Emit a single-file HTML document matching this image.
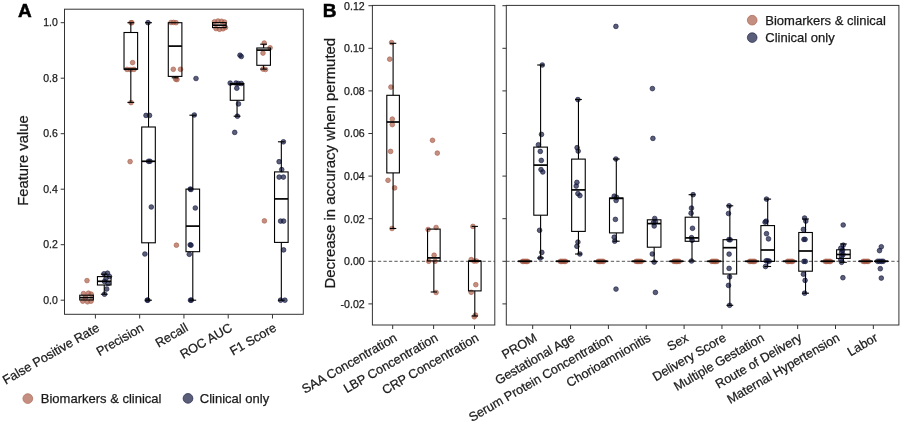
<!DOCTYPE html>
<html><head><meta charset="utf-8"><title>Feature importance figure</title>
<style>html,body{margin:0;padding:0;background:#fff;width:900px;height:422px;overflow:hidden}</style>
</head><body>
<svg width="900" height="422" viewBox="0 0 900 422" style="display:block">
<style>text{stroke:#1a1a1a;stroke-width:0.25px}</style>
<g font-family='"Liberation Sans", Arial, sans-serif'>
<rect width="900" height="422" fill="#fff"/>
<text x="18.00" y="17.30" font-size="19" text-anchor="start" font-weight="bold" fill="#000" style="stroke:#000;stroke-width:0.5px">A</text>
<text x="322.80" y="17.30" font-size="19" text-anchor="start" font-weight="bold" fill="#000" style="stroke:#000;stroke-width:0.5px">B</text>
<circle cx="87.00" cy="280.60" r="2.35" fill="#ab5f4b" fill-opacity="0.7" stroke="#ab5f4b" stroke-opacity="0.7" stroke-width="0.9"/>
<circle cx="83.50" cy="293.60" r="2.35" fill="#ab5f4b" fill-opacity="0.7" stroke="#ab5f4b" stroke-opacity="0.7" stroke-width="0.9"/>
<circle cx="88.50" cy="293.20" r="2.35" fill="#ab5f4b" fill-opacity="0.7" stroke="#ab5f4b" stroke-opacity="0.7" stroke-width="0.9"/>
<circle cx="91.20" cy="294.20" r="2.35" fill="#ab5f4b" fill-opacity="0.7" stroke="#ab5f4b" stroke-opacity="0.7" stroke-width="0.9"/>
<circle cx="82.80" cy="301.20" r="2.35" fill="#ab5f4b" fill-opacity="0.7" stroke="#ab5f4b" stroke-opacity="0.7" stroke-width="0.9"/>
<circle cx="87.50" cy="301.80" r="2.35" fill="#ab5f4b" fill-opacity="0.7" stroke="#ab5f4b" stroke-opacity="0.7" stroke-width="0.9"/>
<circle cx="91.00" cy="301.20" r="2.35" fill="#ab5f4b" fill-opacity="0.7" stroke="#ab5f4b" stroke-opacity="0.7" stroke-width="0.9"/>
<circle cx="85.50" cy="297.50" r="2.35" fill="#ab5f4b" fill-opacity="0.7" stroke="#ab5f4b" stroke-opacity="0.7" stroke-width="0.9"/>
<circle cx="104.00" cy="273.80" r="2.35" fill="#141a40" fill-opacity="0.7" stroke="#141a40" stroke-opacity="0.7" stroke-width="0.9"/>
<circle cx="107.50" cy="273.20" r="2.35" fill="#141a40" fill-opacity="0.7" stroke="#141a40" stroke-opacity="0.7" stroke-width="0.9"/>
<circle cx="109.50" cy="276.50" r="2.35" fill="#141a40" fill-opacity="0.7" stroke="#141a40" stroke-opacity="0.7" stroke-width="0.9"/>
<circle cx="106.00" cy="278.50" r="2.35" fill="#141a40" fill-opacity="0.7" stroke="#141a40" stroke-opacity="0.7" stroke-width="0.9"/>
<circle cx="104.50" cy="281.50" r="2.35" fill="#141a40" fill-opacity="0.7" stroke="#141a40" stroke-opacity="0.7" stroke-width="0.9"/>
<circle cx="108.00" cy="283.50" r="2.35" fill="#141a40" fill-opacity="0.7" stroke="#141a40" stroke-opacity="0.7" stroke-width="0.9"/>
<circle cx="106.70" cy="289.00" r="2.35" fill="#141a40" fill-opacity="0.7" stroke="#141a40" stroke-opacity="0.7" stroke-width="0.9"/>
<circle cx="104.50" cy="294.20" r="2.35" fill="#141a40" fill-opacity="0.7" stroke="#141a40" stroke-opacity="0.7" stroke-width="0.9"/>
<circle cx="131.00" cy="22.70" r="2.35" fill="#ab5f4b" fill-opacity="0.7" stroke="#ab5f4b" stroke-opacity="0.7" stroke-width="0.9"/>
<circle cx="131.80" cy="22.70" r="2.35" fill="#ab5f4b" fill-opacity="0.7" stroke="#ab5f4b" stroke-opacity="0.7" stroke-width="0.9"/>
<circle cx="132.60" cy="62.60" r="2.35" fill="#ab5f4b" fill-opacity="0.7" stroke="#ab5f4b" stroke-opacity="0.7" stroke-width="0.9"/>
<circle cx="127.00" cy="69.40" r="2.35" fill="#ab5f4b" fill-opacity="0.7" stroke="#ab5f4b" stroke-opacity="0.7" stroke-width="0.9"/>
<circle cx="130.50" cy="69.70" r="2.35" fill="#ab5f4b" fill-opacity="0.7" stroke="#ab5f4b" stroke-opacity="0.7" stroke-width="0.9"/>
<circle cx="134.00" cy="69.40" r="2.35" fill="#ab5f4b" fill-opacity="0.7" stroke="#ab5f4b" stroke-opacity="0.7" stroke-width="0.9"/>
<circle cx="131.00" cy="102.60" r="2.35" fill="#ab5f4b" fill-opacity="0.7" stroke="#ab5f4b" stroke-opacity="0.7" stroke-width="0.9"/>
<circle cx="130.10" cy="161.60" r="2.35" fill="#ab5f4b" fill-opacity="0.7" stroke="#ab5f4b" stroke-opacity="0.7" stroke-width="0.9"/>
<circle cx="148.00" cy="22.70" r="2.35" fill="#141a40" fill-opacity="0.7" stroke="#141a40" stroke-opacity="0.7" stroke-width="0.9"/>
<circle cx="146.00" cy="115.40" r="2.35" fill="#141a40" fill-opacity="0.7" stroke="#141a40" stroke-opacity="0.7" stroke-width="0.9"/>
<circle cx="149.50" cy="115.40" r="2.35" fill="#141a40" fill-opacity="0.7" stroke="#141a40" stroke-opacity="0.7" stroke-width="0.9"/>
<circle cx="148.50" cy="161.30" r="2.35" fill="#141a40" fill-opacity="0.7" stroke="#141a40" stroke-opacity="0.7" stroke-width="0.9"/>
<circle cx="150.00" cy="161.30" r="2.35" fill="#141a40" fill-opacity="0.7" stroke="#141a40" stroke-opacity="0.7" stroke-width="0.9"/>
<circle cx="151.30" cy="207.00" r="2.35" fill="#141a40" fill-opacity="0.7" stroke="#141a40" stroke-opacity="0.7" stroke-width="0.9"/>
<circle cx="144.90" cy="254.00" r="2.35" fill="#141a40" fill-opacity="0.7" stroke="#141a40" stroke-opacity="0.7" stroke-width="0.9"/>
<circle cx="147.20" cy="300.20" r="2.35" fill="#141a40" fill-opacity="0.7" stroke="#141a40" stroke-opacity="0.7" stroke-width="0.9"/>
<circle cx="147.90" cy="300.20" r="2.35" fill="#141a40" fill-opacity="0.7" stroke="#141a40" stroke-opacity="0.7" stroke-width="0.9"/>
<circle cx="171.00" cy="22.50" r="2.35" fill="#ab5f4b" fill-opacity="0.7" stroke="#ab5f4b" stroke-opacity="0.7" stroke-width="0.9"/>
<circle cx="173.50" cy="22.40" r="2.35" fill="#ab5f4b" fill-opacity="0.7" stroke="#ab5f4b" stroke-opacity="0.7" stroke-width="0.9"/>
<circle cx="176.00" cy="22.70" r="2.35" fill="#ab5f4b" fill-opacity="0.7" stroke="#ab5f4b" stroke-opacity="0.7" stroke-width="0.9"/>
<circle cx="173.30" cy="69.30" r="2.35" fill="#ab5f4b" fill-opacity="0.7" stroke="#ab5f4b" stroke-opacity="0.7" stroke-width="0.9"/>
<circle cx="180.50" cy="69.30" r="2.35" fill="#ab5f4b" fill-opacity="0.7" stroke="#ab5f4b" stroke-opacity="0.7" stroke-width="0.9"/>
<circle cx="175.70" cy="79.20" r="2.35" fill="#ab5f4b" fill-opacity="0.7" stroke="#ab5f4b" stroke-opacity="0.7" stroke-width="0.9"/>
<circle cx="177.00" cy="79.60" r="2.35" fill="#ab5f4b" fill-opacity="0.7" stroke="#ab5f4b" stroke-opacity="0.7" stroke-width="0.9"/>
<circle cx="176.40" cy="245.20" r="2.35" fill="#ab5f4b" fill-opacity="0.7" stroke="#ab5f4b" stroke-opacity="0.7" stroke-width="0.9"/>
<circle cx="196.00" cy="78.50" r="2.35" fill="#141a40" fill-opacity="0.7" stroke="#141a40" stroke-opacity="0.7" stroke-width="0.9"/>
<circle cx="194.30" cy="115.00" r="2.35" fill="#141a40" fill-opacity="0.7" stroke="#141a40" stroke-opacity="0.7" stroke-width="0.9"/>
<circle cx="190.20" cy="189.10" r="2.35" fill="#141a40" fill-opacity="0.7" stroke="#141a40" stroke-opacity="0.7" stroke-width="0.9"/>
<circle cx="191.00" cy="189.50" r="2.35" fill="#141a40" fill-opacity="0.7" stroke="#141a40" stroke-opacity="0.7" stroke-width="0.9"/>
<circle cx="195.30" cy="208.00" r="2.35" fill="#141a40" fill-opacity="0.7" stroke="#141a40" stroke-opacity="0.7" stroke-width="0.9"/>
<circle cx="190.20" cy="244.80" r="2.35" fill="#141a40" fill-opacity="0.7" stroke="#141a40" stroke-opacity="0.7" stroke-width="0.9"/>
<circle cx="191.00" cy="245.20" r="2.35" fill="#141a40" fill-opacity="0.7" stroke="#141a40" stroke-opacity="0.7" stroke-width="0.9"/>
<circle cx="189.30" cy="254.30" r="2.35" fill="#141a40" fill-opacity="0.7" stroke="#141a40" stroke-opacity="0.7" stroke-width="0.9"/>
<circle cx="190.50" cy="300.20" r="2.35" fill="#141a40" fill-opacity="0.7" stroke="#141a40" stroke-opacity="0.7" stroke-width="0.9"/>
<circle cx="191.30" cy="300.20" r="2.35" fill="#141a40" fill-opacity="0.7" stroke="#141a40" stroke-opacity="0.7" stroke-width="0.9"/>
<circle cx="214.50" cy="21.80" r="2.35" fill="#ab5f4b" fill-opacity="0.7" stroke="#ab5f4b" stroke-opacity="0.7" stroke-width="0.9"/>
<circle cx="218.00" cy="21.00" r="2.35" fill="#ab5f4b" fill-opacity="0.7" stroke="#ab5f4b" stroke-opacity="0.7" stroke-width="0.9"/>
<circle cx="221.50" cy="21.30" r="2.35" fill="#ab5f4b" fill-opacity="0.7" stroke="#ab5f4b" stroke-opacity="0.7" stroke-width="0.9"/>
<circle cx="224.50" cy="22.00" r="2.35" fill="#ab5f4b" fill-opacity="0.7" stroke="#ab5f4b" stroke-opacity="0.7" stroke-width="0.9"/>
<circle cx="216.00" cy="28.60" r="2.35" fill="#ab5f4b" fill-opacity="0.7" stroke="#ab5f4b" stroke-opacity="0.7" stroke-width="0.9"/>
<circle cx="219.50" cy="29.30" r="2.35" fill="#ab5f4b" fill-opacity="0.7" stroke="#ab5f4b" stroke-opacity="0.7" stroke-width="0.9"/>
<circle cx="223.00" cy="28.80" r="2.35" fill="#ab5f4b" fill-opacity="0.7" stroke="#ab5f4b" stroke-opacity="0.7" stroke-width="0.9"/>
<circle cx="225.50" cy="27.50" r="2.35" fill="#ab5f4b" fill-opacity="0.7" stroke="#ab5f4b" stroke-opacity="0.7" stroke-width="0.9"/>
<circle cx="240.00" cy="55.20" r="2.35" fill="#141a40" fill-opacity="0.7" stroke="#141a40" stroke-opacity="0.7" stroke-width="0.9"/>
<circle cx="241.30" cy="56.50" r="2.35" fill="#141a40" fill-opacity="0.7" stroke="#141a40" stroke-opacity="0.7" stroke-width="0.9"/>
<circle cx="230.20" cy="83.10" r="2.35" fill="#141a40" fill-opacity="0.7" stroke="#141a40" stroke-opacity="0.7" stroke-width="0.9"/>
<circle cx="236.00" cy="83.00" r="2.35" fill="#141a40" fill-opacity="0.7" stroke="#141a40" stroke-opacity="0.7" stroke-width="0.9"/>
<circle cx="238.20" cy="83.50" r="2.35" fill="#141a40" fill-opacity="0.7" stroke="#141a40" stroke-opacity="0.7" stroke-width="0.9"/>
<circle cx="241.30" cy="83.50" r="2.35" fill="#141a40" fill-opacity="0.7" stroke="#141a40" stroke-opacity="0.7" stroke-width="0.9"/>
<circle cx="236.80" cy="88.20" r="2.35" fill="#141a40" fill-opacity="0.7" stroke="#141a40" stroke-opacity="0.7" stroke-width="0.9"/>
<circle cx="238.50" cy="103.90" r="2.35" fill="#141a40" fill-opacity="0.7" stroke="#141a40" stroke-opacity="0.7" stroke-width="0.9"/>
<circle cx="237.40" cy="116.20" r="2.35" fill="#141a40" fill-opacity="0.7" stroke="#141a40" stroke-opacity="0.7" stroke-width="0.9"/>
<circle cx="234.70" cy="132.40" r="2.35" fill="#141a40" fill-opacity="0.7" stroke="#141a40" stroke-opacity="0.7" stroke-width="0.9"/>
<circle cx="264.20" cy="43.00" r="2.35" fill="#ab5f4b" fill-opacity="0.7" stroke="#ab5f4b" stroke-opacity="0.7" stroke-width="0.9"/>
<circle cx="270.10" cy="47.80" r="2.35" fill="#ab5f4b" fill-opacity="0.7" stroke="#ab5f4b" stroke-opacity="0.7" stroke-width="0.9"/>
<circle cx="263.00" cy="53.10" r="2.35" fill="#ab5f4b" fill-opacity="0.7" stroke="#ab5f4b" stroke-opacity="0.7" stroke-width="0.9"/>
<circle cx="263.00" cy="69.10" r="2.35" fill="#ab5f4b" fill-opacity="0.7" stroke="#ab5f4b" stroke-opacity="0.7" stroke-width="0.9"/>
<circle cx="265.50" cy="69.50" r="2.35" fill="#ab5f4b" fill-opacity="0.7" stroke="#ab5f4b" stroke-opacity="0.7" stroke-width="0.9"/>
<circle cx="264.40" cy="220.90" r="2.35" fill="#ab5f4b" fill-opacity="0.7" stroke="#ab5f4b" stroke-opacity="0.7" stroke-width="0.9"/>
<circle cx="283.40" cy="141.80" r="2.35" fill="#141a40" fill-opacity="0.7" stroke="#141a40" stroke-opacity="0.7" stroke-width="0.9"/>
<circle cx="279.10" cy="161.70" r="2.35" fill="#141a40" fill-opacity="0.7" stroke="#141a40" stroke-opacity="0.7" stroke-width="0.9"/>
<circle cx="281.70" cy="169.60" r="2.35" fill="#141a40" fill-opacity="0.7" stroke="#141a40" stroke-opacity="0.7" stroke-width="0.9"/>
<circle cx="279.10" cy="177.10" r="2.35" fill="#141a40" fill-opacity="0.7" stroke="#141a40" stroke-opacity="0.7" stroke-width="0.9"/>
<circle cx="283.40" cy="177.10" r="2.35" fill="#141a40" fill-opacity="0.7" stroke="#141a40" stroke-opacity="0.7" stroke-width="0.9"/>
<circle cx="280.60" cy="221.10" r="2.35" fill="#141a40" fill-opacity="0.7" stroke="#141a40" stroke-opacity="0.7" stroke-width="0.9"/>
<circle cx="283.60" cy="221.10" r="2.35" fill="#141a40" fill-opacity="0.7" stroke="#141a40" stroke-opacity="0.7" stroke-width="0.9"/>
<circle cx="283.60" cy="249.90" r="2.35" fill="#141a40" fill-opacity="0.7" stroke="#141a40" stroke-opacity="0.7" stroke-width="0.9"/>
<circle cx="280.60" cy="300.20" r="2.35" fill="#141a40" fill-opacity="0.7" stroke="#141a40" stroke-opacity="0.7" stroke-width="0.9"/>
<circle cx="284.90" cy="300.20" r="2.35" fill="#141a40" fill-opacity="0.7" stroke="#141a40" stroke-opacity="0.7" stroke-width="0.9"/>
<rect x="79.75" y="295.20" width="13.60" height="4.80" fill="none" stroke="#000" stroke-width="1.1"/>
<line x1="79.75" y1="297.60" x2="93.35" y2="297.60" stroke="#000" stroke-width="1.7" />
<line x1="104.25" y1="274.20" x2="104.25" y2="276.60" stroke="#000" stroke-width="1.1" />
<line x1="100.85" y1="274.20" x2="107.65" y2="274.20" stroke="#000" stroke-width="1.1" />
<line x1="104.25" y1="285.00" x2="104.25" y2="294.20" stroke="#000" stroke-width="1.1" />
<line x1="100.85" y1="294.20" x2="107.65" y2="294.20" stroke="#000" stroke-width="1.1" />
<rect x="97.45" y="276.60" width="13.60" height="8.40" fill="none" stroke="#000" stroke-width="1.1"/>
<line x1="97.45" y1="281.30" x2="111.05" y2="281.30" stroke="#000" stroke-width="1.7" />
<line x1="130.82" y1="22.70" x2="130.82" y2="32.50" stroke="#000" stroke-width="1.1" />
<line x1="127.42" y1="22.70" x2="134.22" y2="22.70" stroke="#000" stroke-width="1.1" />
<line x1="130.82" y1="69.20" x2="130.82" y2="102.40" stroke="#000" stroke-width="1.1" />
<line x1="127.42" y1="102.40" x2="134.22" y2="102.40" stroke="#000" stroke-width="1.1" />
<rect x="124.02" y="32.50" width="13.60" height="36.70" fill="none" stroke="#000" stroke-width="1.1"/>
<line x1="124.02" y1="69.20" x2="137.62" y2="69.20" stroke="#000" stroke-width="1.7" />
<line x1="148.52" y1="22.70" x2="148.52" y2="127.00" stroke="#000" stroke-width="1.1" />
<line x1="145.12" y1="22.70" x2="151.92" y2="22.70" stroke="#000" stroke-width="1.1" />
<line x1="148.52" y1="242.80" x2="148.52" y2="300.20" stroke="#000" stroke-width="1.1" />
<line x1="145.12" y1="300.20" x2="151.92" y2="300.20" stroke="#000" stroke-width="1.1" />
<rect x="141.72" y="127.00" width="13.60" height="115.80" fill="none" stroke="#000" stroke-width="1.1"/>
<line x1="141.72" y1="161.30" x2="155.32" y2="161.30" stroke="#000" stroke-width="1.7" />
<line x1="175.09" y1="76.40" x2="175.09" y2="77.80" stroke="#000" stroke-width="1.1" />
<line x1="171.69" y1="77.80" x2="178.49" y2="77.80" stroke="#000" stroke-width="1.1" />
<rect x="168.29" y="22.70" width="13.60" height="53.70" fill="none" stroke="#000" stroke-width="1.1"/>
<line x1="168.29" y1="46.10" x2="181.89" y2="46.10" stroke="#000" stroke-width="1.7" />
<line x1="192.79" y1="115.20" x2="192.79" y2="189.10" stroke="#000" stroke-width="1.1" />
<line x1="189.39" y1="115.20" x2="196.19" y2="115.20" stroke="#000" stroke-width="1.1" />
<line x1="192.79" y1="251.70" x2="192.79" y2="300.20" stroke="#000" stroke-width="1.1" />
<line x1="189.39" y1="300.20" x2="196.19" y2="300.20" stroke="#000" stroke-width="1.1" />
<rect x="185.99" y="189.10" width="13.60" height="62.60" fill="none" stroke="#000" stroke-width="1.1"/>
<line x1="185.99" y1="226.10" x2="199.59" y2="226.10" stroke="#000" stroke-width="1.7" />
<rect x="212.56" y="22.60" width="13.60" height="5.00" fill="none" stroke="#000" stroke-width="1.1"/>
<line x1="212.56" y1="25.20" x2="226.16" y2="25.20" stroke="#000" stroke-width="1.7" />
<line x1="237.06" y1="100.30" x2="237.06" y2="116.20" stroke="#000" stroke-width="1.1" />
<line x1="233.66" y1="116.20" x2="240.46" y2="116.20" stroke="#000" stroke-width="1.1" />
<rect x="230.26" y="83.50" width="13.60" height="16.80" fill="none" stroke="#000" stroke-width="1.1"/>
<line x1="230.26" y1="84.30" x2="243.86" y2="84.30" stroke="#000" stroke-width="1.7" />
<line x1="263.63" y1="44.20" x2="263.63" y2="48.00" stroke="#000" stroke-width="1.1" />
<line x1="260.23" y1="44.20" x2="267.03" y2="44.20" stroke="#000" stroke-width="1.1" />
<line x1="263.63" y1="65.30" x2="263.63" y2="69.10" stroke="#000" stroke-width="1.1" />
<line x1="260.23" y1="69.10" x2="267.03" y2="69.10" stroke="#000" stroke-width="1.1" />
<rect x="256.83" y="48.00" width="13.60" height="17.30" fill="none" stroke="#000" stroke-width="1.1"/>
<line x1="256.83" y1="50.10" x2="270.43" y2="50.10" stroke="#000" stroke-width="1.7" />
<line x1="281.33" y1="141.80" x2="281.33" y2="171.90" stroke="#000" stroke-width="1.1" />
<line x1="277.93" y1="141.80" x2="284.73" y2="141.80" stroke="#000" stroke-width="1.1" />
<line x1="281.33" y1="242.40" x2="281.33" y2="300.20" stroke="#000" stroke-width="1.1" />
<line x1="277.93" y1="300.20" x2="284.73" y2="300.20" stroke="#000" stroke-width="1.1" />
<rect x="274.53" y="171.90" width="13.60" height="70.50" fill="none" stroke="#000" stroke-width="1.1"/>
<line x1="274.53" y1="198.90" x2="288.13" y2="198.90" stroke="#000" stroke-width="1.7" />
<rect x="64.50" y="9.20" width="238.80" height="305.10" fill="none" stroke="#333333" stroke-width="1"/>
<line x1="60.70" y1="300.20" x2="64.50" y2="300.20" stroke="#333333" stroke-width="1" />
<text x="57.90" y="303.50" font-size="10.5" text-anchor="end" font-weight="normal" fill="#1a1a1a" >0.0</text>
<line x1="60.70" y1="244.70" x2="64.50" y2="244.70" stroke="#333333" stroke-width="1" />
<text x="57.90" y="248.00" font-size="10.5" text-anchor="end" font-weight="normal" fill="#1a1a1a" >0.2</text>
<line x1="60.70" y1="189.20" x2="64.50" y2="189.20" stroke="#333333" stroke-width="1" />
<text x="57.90" y="192.50" font-size="10.5" text-anchor="end" font-weight="normal" fill="#1a1a1a" >0.4</text>
<line x1="60.70" y1="133.70" x2="64.50" y2="133.70" stroke="#333333" stroke-width="1" />
<text x="57.90" y="137.00" font-size="10.5" text-anchor="end" font-weight="normal" fill="#1a1a1a" >0.6</text>
<line x1="60.70" y1="78.20" x2="64.50" y2="78.20" stroke="#333333" stroke-width="1" />
<text x="57.90" y="81.50" font-size="10.5" text-anchor="end" font-weight="normal" fill="#1a1a1a" >0.8</text>
<line x1="60.70" y1="22.70" x2="64.50" y2="22.70" stroke="#333333" stroke-width="1" />
<text x="57.90" y="26.00" font-size="10.5" text-anchor="end" font-weight="normal" fill="#1a1a1a" >1.0</text>
<line x1="95.40" y1="314.30" x2="95.40" y2="318.50" stroke="#333333" stroke-width="1" />
<text transform="translate(100.40,330.1) rotate(-30)" font-size="12.7" text-anchor="end" fill="#1a1a1a">False Positive Rate</text>
<line x1="139.67" y1="314.30" x2="139.67" y2="318.50" stroke="#333333" stroke-width="1" />
<text transform="translate(144.67,330.1) rotate(-30)" font-size="12.7" text-anchor="end" fill="#1a1a1a">Precision</text>
<line x1="183.94" y1="314.30" x2="183.94" y2="318.50" stroke="#333333" stroke-width="1" />
<text transform="translate(188.94,330.1) rotate(-30)" font-size="12.7" text-anchor="end" fill="#1a1a1a">Recall</text>
<line x1="228.21" y1="314.30" x2="228.21" y2="318.50" stroke="#333333" stroke-width="1" />
<text transform="translate(233.21,330.1) rotate(-30)" font-size="12.7" text-anchor="end" fill="#1a1a1a">ROC AUC</text>
<line x1="272.48" y1="314.30" x2="272.48" y2="318.50" stroke="#333333" stroke-width="1" />
<text transform="translate(277.48,330.1) rotate(-30)" font-size="12.7" text-anchor="end" fill="#1a1a1a">F1 Score</text>
<text transform="translate(27.6,160.5) rotate(-90)" font-size="14.8" text-anchor="middle" fill="#1a1a1a">Feature value</text>
<line x1="372.40" y1="261.30" x2="494.80" y2="261.30" stroke="#555555" stroke-width="1.0" stroke-dasharray="3.3 2.2"/>
<line x1="506.30" y1="261.30" x2="898.90" y2="261.30" stroke="#555555" stroke-width="1.0" stroke-dasharray="3.3 2.2"/>
<circle cx="391.60" cy="42.60" r="2.35" fill="#ab5f4b" fill-opacity="0.7" stroke="#ab5f4b" stroke-opacity="0.7" stroke-width="0.9"/>
<circle cx="389.70" cy="59.20" r="2.35" fill="#ab5f4b" fill-opacity="0.7" stroke="#ab5f4b" stroke-opacity="0.7" stroke-width="0.9"/>
<circle cx="390.90" cy="87.10" r="2.35" fill="#ab5f4b" fill-opacity="0.7" stroke="#ab5f4b" stroke-opacity="0.7" stroke-width="0.9"/>
<circle cx="392.30" cy="119.10" r="2.35" fill="#ab5f4b" fill-opacity="0.7" stroke="#ab5f4b" stroke-opacity="0.7" stroke-width="0.9"/>
<circle cx="392.30" cy="124.60" r="2.35" fill="#ab5f4b" fill-opacity="0.7" stroke="#ab5f4b" stroke-opacity="0.7" stroke-width="0.9"/>
<circle cx="390.60" cy="151.40" r="2.35" fill="#ab5f4b" fill-opacity="0.7" stroke="#ab5f4b" stroke-opacity="0.7" stroke-width="0.9"/>
<circle cx="388.00" cy="180.30" r="2.35" fill="#ab5f4b" fill-opacity="0.7" stroke="#ab5f4b" stroke-opacity="0.7" stroke-width="0.9"/>
<circle cx="394.60" cy="187.90" r="2.35" fill="#ab5f4b" fill-opacity="0.7" stroke="#ab5f4b" stroke-opacity="0.7" stroke-width="0.9"/>
<circle cx="392.00" cy="228.50" r="2.35" fill="#ab5f4b" fill-opacity="0.7" stroke="#ab5f4b" stroke-opacity="0.7" stroke-width="0.9"/>
<circle cx="432.50" cy="140.30" r="2.35" fill="#ab5f4b" fill-opacity="0.7" stroke="#ab5f4b" stroke-opacity="0.7" stroke-width="0.9"/>
<circle cx="437.30" cy="153.10" r="2.35" fill="#ab5f4b" fill-opacity="0.7" stroke="#ab5f4b" stroke-opacity="0.7" stroke-width="0.9"/>
<circle cx="428.10" cy="229.50" r="2.35" fill="#ab5f4b" fill-opacity="0.7" stroke="#ab5f4b" stroke-opacity="0.7" stroke-width="0.9"/>
<circle cx="436.10" cy="227.50" r="2.35" fill="#ab5f4b" fill-opacity="0.7" stroke="#ab5f4b" stroke-opacity="0.7" stroke-width="0.9"/>
<circle cx="434.10" cy="255.20" r="2.35" fill="#ab5f4b" fill-opacity="0.7" stroke="#ab5f4b" stroke-opacity="0.7" stroke-width="0.9"/>
<circle cx="428.70" cy="261.30" r="2.35" fill="#ab5f4b" fill-opacity="0.7" stroke="#ab5f4b" stroke-opacity="0.7" stroke-width="0.9"/>
<circle cx="435.10" cy="261.30" r="2.35" fill="#ab5f4b" fill-opacity="0.7" stroke="#ab5f4b" stroke-opacity="0.7" stroke-width="0.9"/>
<circle cx="436.10" cy="292.50" r="2.35" fill="#ab5f4b" fill-opacity="0.7" stroke="#ab5f4b" stroke-opacity="0.7" stroke-width="0.9"/>
<circle cx="472.90" cy="226.40" r="2.35" fill="#ab5f4b" fill-opacity="0.7" stroke="#ab5f4b" stroke-opacity="0.7" stroke-width="0.9"/>
<circle cx="471.20" cy="259.60" r="2.35" fill="#ab5f4b" fill-opacity="0.7" stroke="#ab5f4b" stroke-opacity="0.7" stroke-width="0.9"/>
<circle cx="474.00" cy="261.10" r="2.35" fill="#ab5f4b" fill-opacity="0.7" stroke="#ab5f4b" stroke-opacity="0.7" stroke-width="0.9"/>
<circle cx="476.50" cy="261.00" r="2.35" fill="#ab5f4b" fill-opacity="0.7" stroke="#ab5f4b" stroke-opacity="0.7" stroke-width="0.9"/>
<circle cx="475.80" cy="284.70" r="2.35" fill="#ab5f4b" fill-opacity="0.7" stroke="#ab5f4b" stroke-opacity="0.7" stroke-width="0.9"/>
<circle cx="471.20" cy="292.30" r="2.35" fill="#ab5f4b" fill-opacity="0.7" stroke="#ab5f4b" stroke-opacity="0.7" stroke-width="0.9"/>
<circle cx="475.50" cy="315.10" r="2.35" fill="#ab5f4b" fill-opacity="0.7" stroke="#ab5f4b" stroke-opacity="0.7" stroke-width="0.9"/>
<circle cx="474.30" cy="316.80" r="2.35" fill="#ab5f4b" fill-opacity="0.7" stroke="#ab5f4b" stroke-opacity="0.7" stroke-width="0.9"/>
<line x1="393.10" y1="43.30" x2="393.10" y2="95.30" stroke="#000" stroke-width="1.1" />
<line x1="389.95" y1="43.30" x2="396.25" y2="43.30" stroke="#000" stroke-width="1.1" />
<line x1="393.10" y1="172.90" x2="393.10" y2="228.50" stroke="#000" stroke-width="1.1" />
<line x1="389.95" y1="228.50" x2="396.25" y2="228.50" stroke="#000" stroke-width="1.1" />
<rect x="386.80" y="95.30" width="12.60" height="77.60" fill="none" stroke="#000" stroke-width="1.1"/>
<line x1="386.80" y1="122.00" x2="399.40" y2="122.00" stroke="#000" stroke-width="1.7" />
<line x1="433.85" y1="260.90" x2="433.85" y2="292.00" stroke="#000" stroke-width="1.1" />
<line x1="430.70" y1="292.00" x2="437.00" y2="292.00" stroke="#000" stroke-width="1.1" />
<rect x="427.55" y="229.10" width="12.60" height="31.80" fill="none" stroke="#000" stroke-width="1.1"/>
<line x1="427.55" y1="257.90" x2="440.15" y2="257.90" stroke="#000" stroke-width="1.7" />
<line x1="474.80" y1="226.40" x2="474.80" y2="261.10" stroke="#000" stroke-width="1.1" />
<line x1="471.65" y1="226.40" x2="477.95" y2="226.40" stroke="#000" stroke-width="1.1" />
<line x1="474.80" y1="290.90" x2="474.80" y2="316.00" stroke="#000" stroke-width="1.1" />
<line x1="471.65" y1="316.00" x2="477.95" y2="316.00" stroke="#000" stroke-width="1.1" />
<rect x="468.50" y="261.10" width="12.60" height="29.80" fill="none" stroke="#000" stroke-width="1.1"/>
<line x1="468.50" y1="261.10" x2="481.10" y2="261.10" stroke="#000" stroke-width="1.7" />
<circle cx="522.50" cy="261.40" r="2.35" fill="#ab5f4b" fill-opacity="0.7" stroke="#ab5f4b" stroke-opacity="0.7" stroke-width="0.9"/>
<circle cx="523.80" cy="261.40" r="2.35" fill="#ab5f4b" fill-opacity="0.7" stroke="#ab5f4b" stroke-opacity="0.7" stroke-width="0.9"/>
<circle cx="525.10" cy="261.40" r="2.35" fill="#ab5f4b" fill-opacity="0.7" stroke="#ab5f4b" stroke-opacity="0.7" stroke-width="0.9"/>
<circle cx="526.40" cy="261.40" r="2.35" fill="#ab5f4b" fill-opacity="0.7" stroke="#ab5f4b" stroke-opacity="0.7" stroke-width="0.9"/>
<circle cx="527.70" cy="261.40" r="2.35" fill="#ab5f4b" fill-opacity="0.7" stroke="#ab5f4b" stroke-opacity="0.7" stroke-width="0.9"/>
<circle cx="542.30" cy="65.00" r="2.35" fill="#141a40" fill-opacity="0.7" stroke="#141a40" stroke-opacity="0.7" stroke-width="0.9"/>
<circle cx="541.50" cy="134.40" r="2.35" fill="#141a40" fill-opacity="0.7" stroke="#141a40" stroke-opacity="0.7" stroke-width="0.9"/>
<circle cx="538.40" cy="144.80" r="2.35" fill="#141a40" fill-opacity="0.7" stroke="#141a40" stroke-opacity="0.7" stroke-width="0.9"/>
<circle cx="540.30" cy="151.40" r="2.35" fill="#141a40" fill-opacity="0.7" stroke="#141a40" stroke-opacity="0.7" stroke-width="0.9"/>
<circle cx="541.30" cy="160.40" r="2.35" fill="#141a40" fill-opacity="0.7" stroke="#141a40" stroke-opacity="0.7" stroke-width="0.9"/>
<circle cx="541.00" cy="169.60" r="2.35" fill="#141a40" fill-opacity="0.7" stroke="#141a40" stroke-opacity="0.7" stroke-width="0.9"/>
<circle cx="542.80" cy="172.00" r="2.35" fill="#141a40" fill-opacity="0.7" stroke="#141a40" stroke-opacity="0.7" stroke-width="0.9"/>
<circle cx="539.60" cy="230.30" r="2.35" fill="#141a40" fill-opacity="0.7" stroke="#141a40" stroke-opacity="0.7" stroke-width="0.9"/>
<circle cx="541.80" cy="252.40" r="2.35" fill="#141a40" fill-opacity="0.7" stroke="#141a40" stroke-opacity="0.7" stroke-width="0.9"/>
<circle cx="540.30" cy="258.00" r="2.35" fill="#141a40" fill-opacity="0.7" stroke="#141a40" stroke-opacity="0.7" stroke-width="0.9"/>
<circle cx="560.35" cy="261.40" r="2.35" fill="#ab5f4b" fill-opacity="0.7" stroke="#ab5f4b" stroke-opacity="0.7" stroke-width="0.9"/>
<circle cx="561.65" cy="261.40" r="2.35" fill="#ab5f4b" fill-opacity="0.7" stroke="#ab5f4b" stroke-opacity="0.7" stroke-width="0.9"/>
<circle cx="562.95" cy="261.40" r="2.35" fill="#ab5f4b" fill-opacity="0.7" stroke="#ab5f4b" stroke-opacity="0.7" stroke-width="0.9"/>
<circle cx="564.25" cy="261.40" r="2.35" fill="#ab5f4b" fill-opacity="0.7" stroke="#ab5f4b" stroke-opacity="0.7" stroke-width="0.9"/>
<circle cx="565.55" cy="261.40" r="2.35" fill="#ab5f4b" fill-opacity="0.7" stroke="#ab5f4b" stroke-opacity="0.7" stroke-width="0.9"/>
<circle cx="577.90" cy="99.60" r="2.35" fill="#141a40" fill-opacity="0.7" stroke="#141a40" stroke-opacity="0.7" stroke-width="0.9"/>
<circle cx="577.10" cy="147.70" r="2.35" fill="#141a40" fill-opacity="0.7" stroke="#141a40" stroke-opacity="0.7" stroke-width="0.9"/>
<circle cx="578.20" cy="151.10" r="2.35" fill="#141a40" fill-opacity="0.7" stroke="#141a40" stroke-opacity="0.7" stroke-width="0.9"/>
<circle cx="576.90" cy="182.40" r="2.35" fill="#141a40" fill-opacity="0.7" stroke="#141a40" stroke-opacity="0.7" stroke-width="0.9"/>
<circle cx="576.20" cy="186.10" r="2.35" fill="#141a40" fill-opacity="0.7" stroke="#141a40" stroke-opacity="0.7" stroke-width="0.9"/>
<circle cx="577.90" cy="193.60" r="2.35" fill="#141a40" fill-opacity="0.7" stroke="#141a40" stroke-opacity="0.7" stroke-width="0.9"/>
<circle cx="579.90" cy="195.60" r="2.35" fill="#141a40" fill-opacity="0.7" stroke="#141a40" stroke-opacity="0.7" stroke-width="0.9"/>
<circle cx="577.90" cy="242.10" r="2.35" fill="#141a40" fill-opacity="0.7" stroke="#141a40" stroke-opacity="0.7" stroke-width="0.9"/>
<circle cx="576.90" cy="246.30" r="2.35" fill="#141a40" fill-opacity="0.7" stroke="#141a40" stroke-opacity="0.7" stroke-width="0.9"/>
<circle cx="579.90" cy="254.00" r="2.35" fill="#141a40" fill-opacity="0.7" stroke="#141a40" stroke-opacity="0.7" stroke-width="0.9"/>
<circle cx="598.20" cy="261.40" r="2.35" fill="#ab5f4b" fill-opacity="0.7" stroke="#ab5f4b" stroke-opacity="0.7" stroke-width="0.9"/>
<circle cx="599.50" cy="261.40" r="2.35" fill="#ab5f4b" fill-opacity="0.7" stroke="#ab5f4b" stroke-opacity="0.7" stroke-width="0.9"/>
<circle cx="600.80" cy="261.40" r="2.35" fill="#ab5f4b" fill-opacity="0.7" stroke="#ab5f4b" stroke-opacity="0.7" stroke-width="0.9"/>
<circle cx="602.10" cy="261.40" r="2.35" fill="#ab5f4b" fill-opacity="0.7" stroke="#ab5f4b" stroke-opacity="0.7" stroke-width="0.9"/>
<circle cx="603.40" cy="261.40" r="2.35" fill="#ab5f4b" fill-opacity="0.7" stroke="#ab5f4b" stroke-opacity="0.7" stroke-width="0.9"/>
<circle cx="615.90" cy="26.40" r="2.35" fill="#141a40" fill-opacity="0.7" stroke="#141a40" stroke-opacity="0.7" stroke-width="0.9"/>
<circle cx="615.90" cy="159.00" r="2.35" fill="#141a40" fill-opacity="0.7" stroke="#141a40" stroke-opacity="0.7" stroke-width="0.9"/>
<circle cx="614.20" cy="196.20" r="2.35" fill="#141a40" fill-opacity="0.7" stroke="#141a40" stroke-opacity="0.7" stroke-width="0.9"/>
<circle cx="616.60" cy="197.40" r="2.35" fill="#141a40" fill-opacity="0.7" stroke="#141a40" stroke-opacity="0.7" stroke-width="0.9"/>
<circle cx="616.10" cy="200.50" r="2.35" fill="#141a40" fill-opacity="0.7" stroke="#141a40" stroke-opacity="0.7" stroke-width="0.9"/>
<circle cx="615.40" cy="219.40" r="2.35" fill="#141a40" fill-opacity="0.7" stroke="#141a40" stroke-opacity="0.7" stroke-width="0.9"/>
<circle cx="614.20" cy="237.20" r="2.35" fill="#141a40" fill-opacity="0.7" stroke="#141a40" stroke-opacity="0.7" stroke-width="0.9"/>
<circle cx="614.70" cy="241.20" r="2.35" fill="#141a40" fill-opacity="0.7" stroke="#141a40" stroke-opacity="0.7" stroke-width="0.9"/>
<circle cx="616.00" cy="289.10" r="2.35" fill="#141a40" fill-opacity="0.7" stroke="#141a40" stroke-opacity="0.7" stroke-width="0.9"/>
<circle cx="636.05" cy="261.40" r="2.35" fill="#ab5f4b" fill-opacity="0.7" stroke="#ab5f4b" stroke-opacity="0.7" stroke-width="0.9"/>
<circle cx="637.35" cy="261.40" r="2.35" fill="#ab5f4b" fill-opacity="0.7" stroke="#ab5f4b" stroke-opacity="0.7" stroke-width="0.9"/>
<circle cx="638.65" cy="261.40" r="2.35" fill="#ab5f4b" fill-opacity="0.7" stroke="#ab5f4b" stroke-opacity="0.7" stroke-width="0.9"/>
<circle cx="639.95" cy="261.40" r="2.35" fill="#ab5f4b" fill-opacity="0.7" stroke="#ab5f4b" stroke-opacity="0.7" stroke-width="0.9"/>
<circle cx="641.25" cy="261.40" r="2.35" fill="#ab5f4b" fill-opacity="0.7" stroke="#ab5f4b" stroke-opacity="0.7" stroke-width="0.9"/>
<circle cx="652.40" cy="88.60" r="2.35" fill="#141a40" fill-opacity="0.7" stroke="#141a40" stroke-opacity="0.7" stroke-width="0.9"/>
<circle cx="652.90" cy="138.40" r="2.35" fill="#141a40" fill-opacity="0.7" stroke="#141a40" stroke-opacity="0.7" stroke-width="0.9"/>
<circle cx="654.70" cy="218.50" r="2.35" fill="#141a40" fill-opacity="0.7" stroke="#141a40" stroke-opacity="0.7" stroke-width="0.9"/>
<circle cx="653.50" cy="222.50" r="2.35" fill="#141a40" fill-opacity="0.7" stroke="#141a40" stroke-opacity="0.7" stroke-width="0.9"/>
<circle cx="655.40" cy="221.80" r="2.35" fill="#141a40" fill-opacity="0.7" stroke="#141a40" stroke-opacity="0.7" stroke-width="0.9"/>
<circle cx="654.20" cy="226.00" r="2.35" fill="#141a40" fill-opacity="0.7" stroke="#141a40" stroke-opacity="0.7" stroke-width="0.9"/>
<circle cx="652.30" cy="254.00" r="2.35" fill="#141a40" fill-opacity="0.7" stroke="#141a40" stroke-opacity="0.7" stroke-width="0.9"/>
<circle cx="654.20" cy="262.10" r="2.35" fill="#141a40" fill-opacity="0.7" stroke="#141a40" stroke-opacity="0.7" stroke-width="0.9"/>
<circle cx="655.40" cy="292.40" r="2.35" fill="#141a40" fill-opacity="0.7" stroke="#141a40" stroke-opacity="0.7" stroke-width="0.9"/>
<circle cx="673.90" cy="261.40" r="2.35" fill="#ab5f4b" fill-opacity="0.7" stroke="#ab5f4b" stroke-opacity="0.7" stroke-width="0.9"/>
<circle cx="675.20" cy="261.40" r="2.35" fill="#ab5f4b" fill-opacity="0.7" stroke="#ab5f4b" stroke-opacity="0.7" stroke-width="0.9"/>
<circle cx="676.50" cy="261.40" r="2.35" fill="#ab5f4b" fill-opacity="0.7" stroke="#ab5f4b" stroke-opacity="0.7" stroke-width="0.9"/>
<circle cx="677.80" cy="261.40" r="2.35" fill="#ab5f4b" fill-opacity="0.7" stroke="#ab5f4b" stroke-opacity="0.7" stroke-width="0.9"/>
<circle cx="679.10" cy="261.40" r="2.35" fill="#ab5f4b" fill-opacity="0.7" stroke="#ab5f4b" stroke-opacity="0.7" stroke-width="0.9"/>
<circle cx="693.10" cy="194.70" r="2.35" fill="#141a40" fill-opacity="0.7" stroke="#141a40" stroke-opacity="0.7" stroke-width="0.9"/>
<circle cx="691.50" cy="208.10" r="2.35" fill="#141a40" fill-opacity="0.7" stroke="#141a40" stroke-opacity="0.7" stroke-width="0.9"/>
<circle cx="691.10" cy="213.20" r="2.35" fill="#141a40" fill-opacity="0.7" stroke="#141a40" stroke-opacity="0.7" stroke-width="0.9"/>
<circle cx="692.50" cy="228.30" r="2.35" fill="#141a40" fill-opacity="0.7" stroke="#141a40" stroke-opacity="0.7" stroke-width="0.9"/>
<circle cx="691.50" cy="237.70" r="2.35" fill="#141a40" fill-opacity="0.7" stroke="#141a40" stroke-opacity="0.7" stroke-width="0.9"/>
<circle cx="692.10" cy="240.30" r="2.35" fill="#141a40" fill-opacity="0.7" stroke="#141a40" stroke-opacity="0.7" stroke-width="0.9"/>
<circle cx="691.50" cy="261.00" r="2.35" fill="#141a40" fill-opacity="0.7" stroke="#141a40" stroke-opacity="0.7" stroke-width="0.9"/>
<circle cx="711.75" cy="261.40" r="2.35" fill="#ab5f4b" fill-opacity="0.7" stroke="#ab5f4b" stroke-opacity="0.7" stroke-width="0.9"/>
<circle cx="713.05" cy="261.40" r="2.35" fill="#ab5f4b" fill-opacity="0.7" stroke="#ab5f4b" stroke-opacity="0.7" stroke-width="0.9"/>
<circle cx="714.35" cy="261.40" r="2.35" fill="#ab5f4b" fill-opacity="0.7" stroke="#ab5f4b" stroke-opacity="0.7" stroke-width="0.9"/>
<circle cx="715.65" cy="261.40" r="2.35" fill="#ab5f4b" fill-opacity="0.7" stroke="#ab5f4b" stroke-opacity="0.7" stroke-width="0.9"/>
<circle cx="716.95" cy="261.40" r="2.35" fill="#ab5f4b" fill-opacity="0.7" stroke="#ab5f4b" stroke-opacity="0.7" stroke-width="0.9"/>
<circle cx="729.10" cy="205.80" r="2.35" fill="#141a40" fill-opacity="0.7" stroke="#141a40" stroke-opacity="0.7" stroke-width="0.9"/>
<circle cx="728.50" cy="213.50" r="2.35" fill="#141a40" fill-opacity="0.7" stroke="#141a40" stroke-opacity="0.7" stroke-width="0.9"/>
<circle cx="728.90" cy="239.60" r="2.35" fill="#141a40" fill-opacity="0.7" stroke="#141a40" stroke-opacity="0.7" stroke-width="0.9"/>
<circle cx="730.20" cy="239.80" r="2.35" fill="#141a40" fill-opacity="0.7" stroke="#141a40" stroke-opacity="0.7" stroke-width="0.9"/>
<circle cx="729.10" cy="254.10" r="2.35" fill="#141a40" fill-opacity="0.7" stroke="#141a40" stroke-opacity="0.7" stroke-width="0.9"/>
<circle cx="729.10" cy="268.40" r="2.35" fill="#141a40" fill-opacity="0.7" stroke="#141a40" stroke-opacity="0.7" stroke-width="0.9"/>
<circle cx="729.60" cy="276.90" r="2.35" fill="#141a40" fill-opacity="0.7" stroke="#141a40" stroke-opacity="0.7" stroke-width="0.9"/>
<circle cx="728.50" cy="285.40" r="2.35" fill="#141a40" fill-opacity="0.7" stroke="#141a40" stroke-opacity="0.7" stroke-width="0.9"/>
<circle cx="729.60" cy="305.30" r="2.35" fill="#141a40" fill-opacity="0.7" stroke="#141a40" stroke-opacity="0.7" stroke-width="0.9"/>
<circle cx="749.60" cy="261.40" r="2.35" fill="#ab5f4b" fill-opacity="0.7" stroke="#ab5f4b" stroke-opacity="0.7" stroke-width="0.9"/>
<circle cx="750.90" cy="261.40" r="2.35" fill="#ab5f4b" fill-opacity="0.7" stroke="#ab5f4b" stroke-opacity="0.7" stroke-width="0.9"/>
<circle cx="752.20" cy="261.40" r="2.35" fill="#ab5f4b" fill-opacity="0.7" stroke="#ab5f4b" stroke-opacity="0.7" stroke-width="0.9"/>
<circle cx="753.50" cy="261.40" r="2.35" fill="#ab5f4b" fill-opacity="0.7" stroke="#ab5f4b" stroke-opacity="0.7" stroke-width="0.9"/>
<circle cx="754.80" cy="261.40" r="2.35" fill="#ab5f4b" fill-opacity="0.7" stroke="#ab5f4b" stroke-opacity="0.7" stroke-width="0.9"/>
<circle cx="766.50" cy="199.10" r="2.35" fill="#141a40" fill-opacity="0.7" stroke="#141a40" stroke-opacity="0.7" stroke-width="0.9"/>
<circle cx="766.10" cy="221.20" r="2.35" fill="#141a40" fill-opacity="0.7" stroke="#141a40" stroke-opacity="0.7" stroke-width="0.9"/>
<circle cx="765.10" cy="222.20" r="2.35" fill="#141a40" fill-opacity="0.7" stroke="#141a40" stroke-opacity="0.7" stroke-width="0.9"/>
<circle cx="766.50" cy="233.70" r="2.35" fill="#141a40" fill-opacity="0.7" stroke="#141a40" stroke-opacity="0.7" stroke-width="0.9"/>
<circle cx="768.50" cy="238.90" r="2.35" fill="#141a40" fill-opacity="0.7" stroke="#141a40" stroke-opacity="0.7" stroke-width="0.9"/>
<circle cx="766.10" cy="260.80" r="2.35" fill="#141a40" fill-opacity="0.7" stroke="#141a40" stroke-opacity="0.7" stroke-width="0.9"/>
<circle cx="767.70" cy="260.80" r="2.35" fill="#141a40" fill-opacity="0.7" stroke="#141a40" stroke-opacity="0.7" stroke-width="0.9"/>
<circle cx="769.20" cy="261.20" r="2.35" fill="#141a40" fill-opacity="0.7" stroke="#141a40" stroke-opacity="0.7" stroke-width="0.9"/>
<circle cx="765.50" cy="266.50" r="2.35" fill="#141a40" fill-opacity="0.7" stroke="#141a40" stroke-opacity="0.7" stroke-width="0.9"/>
<circle cx="787.45" cy="261.40" r="2.35" fill="#ab5f4b" fill-opacity="0.7" stroke="#ab5f4b" stroke-opacity="0.7" stroke-width="0.9"/>
<circle cx="788.75" cy="261.40" r="2.35" fill="#ab5f4b" fill-opacity="0.7" stroke="#ab5f4b" stroke-opacity="0.7" stroke-width="0.9"/>
<circle cx="790.05" cy="261.40" r="2.35" fill="#ab5f4b" fill-opacity="0.7" stroke="#ab5f4b" stroke-opacity="0.7" stroke-width="0.9"/>
<circle cx="791.35" cy="261.40" r="2.35" fill="#ab5f4b" fill-opacity="0.7" stroke="#ab5f4b" stroke-opacity="0.7" stroke-width="0.9"/>
<circle cx="792.65" cy="261.40" r="2.35" fill="#ab5f4b" fill-opacity="0.7" stroke="#ab5f4b" stroke-opacity="0.7" stroke-width="0.9"/>
<circle cx="804.60" cy="218.00" r="2.35" fill="#141a40" fill-opacity="0.7" stroke="#141a40" stroke-opacity="0.7" stroke-width="0.9"/>
<circle cx="805.80" cy="221.10" r="2.35" fill="#141a40" fill-opacity="0.7" stroke="#141a40" stroke-opacity="0.7" stroke-width="0.9"/>
<circle cx="803.40" cy="229.40" r="2.35" fill="#141a40" fill-opacity="0.7" stroke="#141a40" stroke-opacity="0.7" stroke-width="0.9"/>
<circle cx="803.90" cy="239.40" r="2.35" fill="#141a40" fill-opacity="0.7" stroke="#141a40" stroke-opacity="0.7" stroke-width="0.9"/>
<circle cx="805.10" cy="239.40" r="2.35" fill="#141a40" fill-opacity="0.7" stroke="#141a40" stroke-opacity="0.7" stroke-width="0.9"/>
<circle cx="803.90" cy="261.40" r="2.35" fill="#141a40" fill-opacity="0.7" stroke="#141a40" stroke-opacity="0.7" stroke-width="0.9"/>
<circle cx="805.30" cy="261.40" r="2.35" fill="#141a40" fill-opacity="0.7" stroke="#141a40" stroke-opacity="0.7" stroke-width="0.9"/>
<circle cx="803.40" cy="274.20" r="2.35" fill="#141a40" fill-opacity="0.7" stroke="#141a40" stroke-opacity="0.7" stroke-width="0.9"/>
<circle cx="805.10" cy="280.40" r="2.35" fill="#141a40" fill-opacity="0.7" stroke="#141a40" stroke-opacity="0.7" stroke-width="0.9"/>
<circle cx="804.60" cy="293.20" r="2.35" fill="#141a40" fill-opacity="0.7" stroke="#141a40" stroke-opacity="0.7" stroke-width="0.9"/>
<circle cx="825.30" cy="261.40" r="2.35" fill="#ab5f4b" fill-opacity="0.7" stroke="#ab5f4b" stroke-opacity="0.7" stroke-width="0.9"/>
<circle cx="826.60" cy="261.40" r="2.35" fill="#ab5f4b" fill-opacity="0.7" stroke="#ab5f4b" stroke-opacity="0.7" stroke-width="0.9"/>
<circle cx="827.90" cy="261.40" r="2.35" fill="#ab5f4b" fill-opacity="0.7" stroke="#ab5f4b" stroke-opacity="0.7" stroke-width="0.9"/>
<circle cx="829.20" cy="261.40" r="2.35" fill="#ab5f4b" fill-opacity="0.7" stroke="#ab5f4b" stroke-opacity="0.7" stroke-width="0.9"/>
<circle cx="830.50" cy="261.40" r="2.35" fill="#ab5f4b" fill-opacity="0.7" stroke="#ab5f4b" stroke-opacity="0.7" stroke-width="0.9"/>
<circle cx="843.20" cy="225.00" r="2.35" fill="#141a40" fill-opacity="0.7" stroke="#141a40" stroke-opacity="0.7" stroke-width="0.9"/>
<circle cx="843.20" cy="245.20" r="2.35" fill="#141a40" fill-opacity="0.7" stroke="#141a40" stroke-opacity="0.7" stroke-width="0.9"/>
<circle cx="840.80" cy="248.20" r="2.35" fill="#141a40" fill-opacity="0.7" stroke="#141a40" stroke-opacity="0.7" stroke-width="0.9"/>
<circle cx="842.60" cy="250.20" r="2.35" fill="#141a40" fill-opacity="0.7" stroke="#141a40" stroke-opacity="0.7" stroke-width="0.9"/>
<circle cx="841.60" cy="252.30" r="2.35" fill="#141a40" fill-opacity="0.7" stroke="#141a40" stroke-opacity="0.7" stroke-width="0.9"/>
<circle cx="843.00" cy="254.60" r="2.35" fill="#141a40" fill-opacity="0.7" stroke="#141a40" stroke-opacity="0.7" stroke-width="0.9"/>
<circle cx="841.60" cy="256.50" r="2.35" fill="#141a40" fill-opacity="0.7" stroke="#141a40" stroke-opacity="0.7" stroke-width="0.9"/>
<circle cx="840.80" cy="259.80" r="2.35" fill="#141a40" fill-opacity="0.7" stroke="#141a40" stroke-opacity="0.7" stroke-width="0.9"/>
<circle cx="841.60" cy="262.30" r="2.35" fill="#141a40" fill-opacity="0.7" stroke="#141a40" stroke-opacity="0.7" stroke-width="0.9"/>
<circle cx="842.90" cy="277.70" r="2.35" fill="#141a40" fill-opacity="0.7" stroke="#141a40" stroke-opacity="0.7" stroke-width="0.9"/>
<circle cx="863.15" cy="261.40" r="2.35" fill="#ab5f4b" fill-opacity="0.7" stroke="#ab5f4b" stroke-opacity="0.7" stroke-width="0.9"/>
<circle cx="864.45" cy="261.40" r="2.35" fill="#ab5f4b" fill-opacity="0.7" stroke="#ab5f4b" stroke-opacity="0.7" stroke-width="0.9"/>
<circle cx="865.75" cy="261.40" r="2.35" fill="#ab5f4b" fill-opacity="0.7" stroke="#ab5f4b" stroke-opacity="0.7" stroke-width="0.9"/>
<circle cx="867.05" cy="261.40" r="2.35" fill="#ab5f4b" fill-opacity="0.7" stroke="#ab5f4b" stroke-opacity="0.7" stroke-width="0.9"/>
<circle cx="868.35" cy="261.40" r="2.35" fill="#ab5f4b" fill-opacity="0.7" stroke="#ab5f4b" stroke-opacity="0.7" stroke-width="0.9"/>
<circle cx="881.30" cy="246.80" r="2.35" fill="#141a40" fill-opacity="0.7" stroke="#141a40" stroke-opacity="0.7" stroke-width="0.9"/>
<circle cx="879.50" cy="250.60" r="2.35" fill="#141a40" fill-opacity="0.7" stroke="#141a40" stroke-opacity="0.7" stroke-width="0.9"/>
<circle cx="877.60" cy="261.30" r="2.35" fill="#141a40" fill-opacity="0.7" stroke="#141a40" stroke-opacity="0.7" stroke-width="0.9"/>
<circle cx="879.50" cy="261.30" r="2.35" fill="#141a40" fill-opacity="0.7" stroke="#141a40" stroke-opacity="0.7" stroke-width="0.9"/>
<circle cx="881.50" cy="261.30" r="2.35" fill="#141a40" fill-opacity="0.7" stroke="#141a40" stroke-opacity="0.7" stroke-width="0.9"/>
<circle cx="883.20" cy="261.30" r="2.35" fill="#141a40" fill-opacity="0.7" stroke="#141a40" stroke-opacity="0.7" stroke-width="0.9"/>
<circle cx="880.30" cy="268.70" r="2.35" fill="#141a40" fill-opacity="0.7" stroke="#141a40" stroke-opacity="0.7" stroke-width="0.9"/>
<circle cx="881.30" cy="278.10" r="2.35" fill="#141a40" fill-opacity="0.7" stroke="#141a40" stroke-opacity="0.7" stroke-width="0.9"/>
<rect x="518.20" y="261.30" width="13.60" height="0.01" fill="none" stroke="#000" stroke-width="1.1"/>
<line x1="518.20" y1="261.30" x2="531.80" y2="261.30" stroke="#000" stroke-width="1.7" />
<line x1="540.60" y1="65.00" x2="540.60" y2="147.10" stroke="#000" stroke-width="1.1" />
<line x1="537.20" y1="65.00" x2="544.00" y2="65.00" stroke="#000" stroke-width="1.1" />
<line x1="540.60" y1="215.20" x2="540.60" y2="258.00" stroke="#000" stroke-width="1.1" />
<line x1="537.20" y1="258.00" x2="544.00" y2="258.00" stroke="#000" stroke-width="1.1" />
<rect x="533.80" y="147.10" width="13.60" height="68.10" fill="none" stroke="#000" stroke-width="1.1"/>
<line x1="533.80" y1="165.10" x2="547.40" y2="165.10" stroke="#000" stroke-width="1.7" />
<rect x="556.05" y="261.30" width="13.60" height="0.01" fill="none" stroke="#000" stroke-width="1.1"/>
<line x1="556.05" y1="261.30" x2="569.65" y2="261.30" stroke="#000" stroke-width="1.7" />
<line x1="578.45" y1="99.50" x2="578.45" y2="159.10" stroke="#000" stroke-width="1.1" />
<line x1="575.05" y1="99.50" x2="581.85" y2="99.50" stroke="#000" stroke-width="1.1" />
<line x1="578.45" y1="231.40" x2="578.45" y2="254.00" stroke="#000" stroke-width="1.1" />
<line x1="575.05" y1="254.00" x2="581.85" y2="254.00" stroke="#000" stroke-width="1.1" />
<rect x="571.65" y="159.10" width="13.60" height="72.30" fill="none" stroke="#000" stroke-width="1.1"/>
<line x1="571.65" y1="189.90" x2="585.25" y2="189.90" stroke="#000" stroke-width="1.7" />
<rect x="593.90" y="261.30" width="13.60" height="0.01" fill="none" stroke="#000" stroke-width="1.1"/>
<line x1="593.90" y1="261.30" x2="607.50" y2="261.30" stroke="#000" stroke-width="1.7" />
<line x1="616.30" y1="159.00" x2="616.30" y2="198.00" stroke="#000" stroke-width="1.1" />
<line x1="612.90" y1="159.00" x2="619.70" y2="159.00" stroke="#000" stroke-width="1.1" />
<line x1="616.30" y1="232.90" x2="616.30" y2="241.20" stroke="#000" stroke-width="1.1" />
<line x1="612.90" y1="241.20" x2="619.70" y2="241.20" stroke="#000" stroke-width="1.1" />
<rect x="609.50" y="198.00" width="13.60" height="34.90" fill="none" stroke="#000" stroke-width="1.1"/>
<line x1="609.50" y1="198.40" x2="623.10" y2="198.40" stroke="#000" stroke-width="1.7" />
<rect x="631.75" y="261.30" width="13.60" height="0.01" fill="none" stroke="#000" stroke-width="1.1"/>
<line x1="631.75" y1="261.30" x2="645.35" y2="261.30" stroke="#000" stroke-width="1.7" />
<line x1="654.15" y1="247.20" x2="654.15" y2="261.60" stroke="#000" stroke-width="1.1" />
<line x1="650.75" y1="261.60" x2="657.55" y2="261.60" stroke="#000" stroke-width="1.1" />
<rect x="647.35" y="219.80" width="13.60" height="27.40" fill="none" stroke="#000" stroke-width="1.1"/>
<line x1="647.35" y1="223.60" x2="660.95" y2="223.60" stroke="#000" stroke-width="1.7" />
<rect x="669.60" y="261.30" width="13.60" height="0.01" fill="none" stroke="#000" stroke-width="1.1"/>
<line x1="669.60" y1="261.30" x2="683.20" y2="261.30" stroke="#000" stroke-width="1.7" />
<line x1="692.00" y1="194.70" x2="692.00" y2="217.20" stroke="#000" stroke-width="1.1" />
<line x1="688.60" y1="194.70" x2="695.40" y2="194.70" stroke="#000" stroke-width="1.1" />
<line x1="692.00" y1="241.30" x2="692.00" y2="261.00" stroke="#000" stroke-width="1.1" />
<line x1="688.60" y1="261.00" x2="695.40" y2="261.00" stroke="#000" stroke-width="1.1" />
<rect x="685.20" y="217.20" width="13.60" height="24.10" fill="none" stroke="#000" stroke-width="1.1"/>
<line x1="685.20" y1="237.90" x2="698.80" y2="237.90" stroke="#000" stroke-width="1.7" />
<rect x="707.45" y="261.30" width="13.60" height="0.01" fill="none" stroke="#000" stroke-width="1.1"/>
<line x1="707.45" y1="261.30" x2="721.05" y2="261.30" stroke="#000" stroke-width="1.7" />
<line x1="729.85" y1="205.80" x2="729.85" y2="239.70" stroke="#000" stroke-width="1.1" />
<line x1="726.45" y1="205.80" x2="733.25" y2="205.80" stroke="#000" stroke-width="1.1" />
<line x1="729.85" y1="274.00" x2="729.85" y2="305.30" stroke="#000" stroke-width="1.1" />
<line x1="726.45" y1="305.30" x2="733.25" y2="305.30" stroke="#000" stroke-width="1.1" />
<rect x="723.05" y="239.70" width="13.60" height="34.30" fill="none" stroke="#000" stroke-width="1.1"/>
<line x1="723.05" y1="247.70" x2="736.65" y2="247.70" stroke="#000" stroke-width="1.7" />
<rect x="745.30" y="261.30" width="13.60" height="0.01" fill="none" stroke="#000" stroke-width="1.1"/>
<line x1="745.30" y1="261.30" x2="758.90" y2="261.30" stroke="#000" stroke-width="1.7" />
<line x1="767.70" y1="199.10" x2="767.70" y2="225.60" stroke="#000" stroke-width="1.1" />
<line x1="764.30" y1="199.10" x2="771.10" y2="199.10" stroke="#000" stroke-width="1.1" />
<line x1="767.70" y1="261.40" x2="767.70" y2="266.50" stroke="#000" stroke-width="1.1" />
<line x1="764.30" y1="266.50" x2="771.10" y2="266.50" stroke="#000" stroke-width="1.1" />
<rect x="760.90" y="225.60" width="13.60" height="35.80" fill="none" stroke="#000" stroke-width="1.1"/>
<line x1="760.90" y1="250.00" x2="774.50" y2="250.00" stroke="#000" stroke-width="1.7" />
<rect x="783.15" y="261.30" width="13.60" height="0.01" fill="none" stroke="#000" stroke-width="1.1"/>
<line x1="783.15" y1="261.30" x2="796.75" y2="261.30" stroke="#000" stroke-width="1.7" />
<line x1="805.55" y1="219.00" x2="805.55" y2="232.50" stroke="#000" stroke-width="1.1" />
<line x1="802.15" y1="219.00" x2="808.95" y2="219.00" stroke="#000" stroke-width="1.1" />
<line x1="805.55" y1="271.20" x2="805.55" y2="293.20" stroke="#000" stroke-width="1.1" />
<line x1="802.15" y1="293.20" x2="808.95" y2="293.20" stroke="#000" stroke-width="1.1" />
<rect x="798.75" y="232.50" width="13.60" height="38.70" fill="none" stroke="#000" stroke-width="1.1"/>
<line x1="798.75" y1="251.00" x2="812.35" y2="251.00" stroke="#000" stroke-width="1.7" />
<rect x="821.00" y="261.30" width="13.60" height="0.01" fill="none" stroke="#000" stroke-width="1.1"/>
<line x1="821.00" y1="261.30" x2="834.60" y2="261.30" stroke="#000" stroke-width="1.7" />
<line x1="843.40" y1="244.00" x2="843.40" y2="249.80" stroke="#000" stroke-width="1.1" />
<line x1="840.00" y1="244.00" x2="846.80" y2="244.00" stroke="#000" stroke-width="1.1" />
<line x1="843.40" y1="258.40" x2="843.40" y2="262.30" stroke="#000" stroke-width="1.1" />
<line x1="840.00" y1="262.30" x2="846.80" y2="262.30" stroke="#000" stroke-width="1.1" />
<rect x="836.60" y="249.80" width="13.60" height="8.60" fill="none" stroke="#000" stroke-width="1.1"/>
<line x1="836.60" y1="254.50" x2="850.20" y2="254.50" stroke="#000" stroke-width="1.7" />
<rect x="858.85" y="261.30" width="13.60" height="0.01" fill="none" stroke="#000" stroke-width="1.1"/>
<line x1="858.85" y1="261.30" x2="872.45" y2="261.30" stroke="#000" stroke-width="1.7" />
<rect x="874.45" y="261.30" width="13.60" height="0.01" fill="none" stroke="#000" stroke-width="1.1"/>
<line x1="874.45" y1="261.30" x2="888.05" y2="261.30" stroke="#000" stroke-width="1.7" />
<rect x="372.40" y="5.40" width="122.40" height="319.60" fill="none" stroke="#333333" stroke-width="1"/>
<rect x="506.30" y="5.40" width="392.60" height="319.60" fill="none" stroke="#333333" stroke-width="1"/>
<line x1="368.40" y1="303.90" x2="372.40" y2="303.90" stroke="#333333" stroke-width="1" />
<line x1="502.40" y1="303.90" x2="506.30" y2="303.90" stroke="#333333" stroke-width="1" />
<text x="364.70" y="307.70" font-size="10.6" text-anchor="end" font-weight="normal" fill="#1a1a1a" >-0.02</text>
<line x1="368.40" y1="261.30" x2="372.40" y2="261.30" stroke="#333333" stroke-width="1" />
<line x1="502.40" y1="261.30" x2="506.30" y2="261.30" stroke="#333333" stroke-width="1" />
<text x="364.70" y="265.10" font-size="10.6" text-anchor="end" font-weight="normal" fill="#1a1a1a" >0.00</text>
<line x1="368.40" y1="218.70" x2="372.40" y2="218.70" stroke="#333333" stroke-width="1" />
<line x1="502.40" y1="218.70" x2="506.30" y2="218.70" stroke="#333333" stroke-width="1" />
<text x="364.70" y="222.50" font-size="10.6" text-anchor="end" font-weight="normal" fill="#1a1a1a" >0.02</text>
<line x1="368.40" y1="176.10" x2="372.40" y2="176.10" stroke="#333333" stroke-width="1" />
<line x1="502.40" y1="176.10" x2="506.30" y2="176.10" stroke="#333333" stroke-width="1" />
<text x="364.70" y="179.90" font-size="10.6" text-anchor="end" font-weight="normal" fill="#1a1a1a" >0.04</text>
<line x1="368.40" y1="133.50" x2="372.40" y2="133.50" stroke="#333333" stroke-width="1" />
<line x1="502.40" y1="133.50" x2="506.30" y2="133.50" stroke="#333333" stroke-width="1" />
<text x="364.70" y="137.30" font-size="10.6" text-anchor="end" font-weight="normal" fill="#1a1a1a" >0.06</text>
<line x1="368.40" y1="90.90" x2="372.40" y2="90.90" stroke="#333333" stroke-width="1" />
<line x1="502.40" y1="90.90" x2="506.30" y2="90.90" stroke="#333333" stroke-width="1" />
<text x="364.70" y="94.70" font-size="10.6" text-anchor="end" font-weight="normal" fill="#1a1a1a" >0.08</text>
<line x1="368.40" y1="48.30" x2="372.40" y2="48.30" stroke="#333333" stroke-width="1" />
<line x1="502.40" y1="48.30" x2="506.30" y2="48.30" stroke="#333333" stroke-width="1" />
<text x="364.70" y="52.10" font-size="10.6" text-anchor="end" font-weight="normal" fill="#1a1a1a" >0.10</text>
<line x1="368.40" y1="5.70" x2="372.40" y2="5.70" stroke="#333333" stroke-width="1" />
<line x1="502.40" y1="5.70" x2="506.30" y2="5.70" stroke="#333333" stroke-width="1" />
<text x="364.70" y="9.50" font-size="10.6" text-anchor="end" font-weight="normal" fill="#1a1a1a" >0.12</text>
<line x1="392.70" y1="325.00" x2="392.70" y2="329.00" stroke="#333333" stroke-width="1" />
<text transform="translate(397.90,340.2) rotate(-30)" font-size="12.7" text-anchor="end" fill="#1a1a1a">SAA Concentration</text>
<line x1="433.60" y1="325.00" x2="433.60" y2="329.00" stroke="#333333" stroke-width="1" />
<text transform="translate(438.80,340.2) rotate(-30)" font-size="12.7" text-anchor="end" fill="#1a1a1a">LBP Concentration</text>
<line x1="474.50" y1="325.00" x2="474.50" y2="329.00" stroke="#333333" stroke-width="1" />
<text transform="translate(479.70,340.2) rotate(-30)" font-size="12.7" text-anchor="end" fill="#1a1a1a">CRP Concentration</text>
<line x1="532.70" y1="325.00" x2="532.70" y2="329.00" stroke="#333333" stroke-width="1" />
<text transform="translate(537.90,340.2) rotate(-30)" font-size="12.7" text-anchor="end" fill="#1a1a1a">PROM</text>
<line x1="570.55" y1="325.00" x2="570.55" y2="329.00" stroke="#333333" stroke-width="1" />
<text transform="translate(575.75,340.2) rotate(-30)" font-size="12.7" text-anchor="end" fill="#1a1a1a">Gestational Age</text>
<line x1="608.40" y1="325.00" x2="608.40" y2="329.00" stroke="#333333" stroke-width="1" />
<text transform="translate(613.60,340.2) rotate(-30)" font-size="12.7" text-anchor="end" fill="#1a1a1a">Serum Protein Concentration</text>
<line x1="646.25" y1="325.00" x2="646.25" y2="329.00" stroke="#333333" stroke-width="1" />
<text transform="translate(651.45,340.2) rotate(-30)" font-size="12.7" text-anchor="end" fill="#1a1a1a">Chorioamnionitis</text>
<line x1="684.10" y1="325.00" x2="684.10" y2="329.00" stroke="#333333" stroke-width="1" />
<text transform="translate(689.30,340.2) rotate(-30)" font-size="12.7" text-anchor="end" fill="#1a1a1a">Sex</text>
<line x1="721.95" y1="325.00" x2="721.95" y2="329.00" stroke="#333333" stroke-width="1" />
<text transform="translate(727.15,340.2) rotate(-30)" font-size="12.7" text-anchor="end" fill="#1a1a1a">Delivery Score</text>
<line x1="759.80" y1="325.00" x2="759.80" y2="329.00" stroke="#333333" stroke-width="1" />
<text transform="translate(765.00,340.2) rotate(-30)" font-size="12.7" text-anchor="end" fill="#1a1a1a">Multiple Gestation</text>
<line x1="797.65" y1="325.00" x2="797.65" y2="329.00" stroke="#333333" stroke-width="1" />
<text transform="translate(802.85,340.2) rotate(-30)" font-size="12.7" text-anchor="end" fill="#1a1a1a">Route of Delivery</text>
<line x1="835.50" y1="325.00" x2="835.50" y2="329.00" stroke="#333333" stroke-width="1" />
<text transform="translate(840.70,340.2) rotate(-30)" font-size="12.7" text-anchor="end" fill="#1a1a1a">Maternal Hypertension</text>
<line x1="873.35" y1="325.00" x2="873.35" y2="329.00" stroke="#333333" stroke-width="1" />
<text transform="translate(878.55,340.2) rotate(-30)" font-size="12.7" text-anchor="end" fill="#1a1a1a">Labor</text>
<text transform="translate(335.4,163.2) rotate(-90)" font-size="14.95" text-anchor="middle" fill="#1a1a1a">Decrease in accuracy when permuted</text>
<circle cx="752.20" cy="20.20" r="4.85" fill="#ab5f4b" fill-opacity="0.7" stroke="#ab5f4b" stroke-opacity="0.7" stroke-width="0.9"/>
<circle cx="752.20" cy="37.60" r="4.85" fill="#141a40" fill-opacity="0.7" stroke="#141a40" stroke-opacity="0.7" stroke-width="0.9"/>
<text x="765.30" y="24.90" font-size="13" text-anchor="start" font-weight="normal" fill="#1a1a1a" >Biomarkers &amp; clinical</text>
<text x="765.30" y="42.30" font-size="13" text-anchor="start" font-weight="normal" fill="#1a1a1a" >Clinical only</text>
<circle cx="27.80" cy="398.60" r="4.9" fill="#ab5f4b" fill-opacity="0.7" stroke="#ab5f4b" stroke-opacity="0.7" stroke-width="0.9"/>
<circle cx="188.00" cy="398.40" r="4.9" fill="#141a40" fill-opacity="0.7" stroke="#141a40" stroke-opacity="0.7" stroke-width="0.9"/>
<text x="40.80" y="403.30" font-size="13" text-anchor="start" font-weight="normal" fill="#1a1a1a" >Biomarkers &amp; clinical</text>
<text x="199.80" y="403.30" font-size="13" text-anchor="start" font-weight="normal" fill="#1a1a1a" >Clinical only</text>
</g></svg>
</body></html>
